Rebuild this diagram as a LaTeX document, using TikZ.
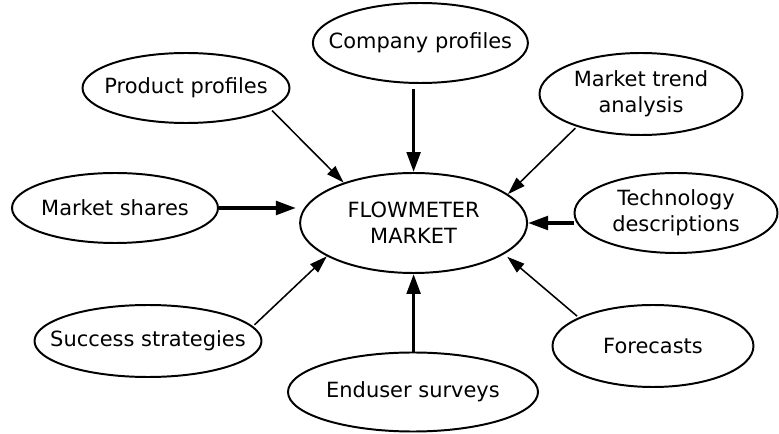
\documentclass[tikz,border=0pt]{standalone}
\usepackage{fontspec}
\setmainfont{DejaVu Sans}
\usetikzlibrary{shapes.geometric}
\usetikzlibrary{arrows.meta}

\begin{document}
\begin{tikzpicture}[
    bubble/.style={ellipse, draw, line width=1.4pt, inner xsep=-5cm, inner ysep=-1cm, align=center,
                   font=\fontsize{14.9pt}{18.5pt}\selectfont},
    feed/.style={line width=1.1pt, -{Triangle[length=0.44cm, width=0.28cm]}},
    mainfeed/.style={line width=2.5pt, -{Triangle[length=0.5cm, width=0.34cm]}}]

\draw[draw=none, use as bounding box] (0, 0) rectangle (19.475, 10.85);

% the market in the middle
\node [bubble, minimum width=5.675cm, minimum height=2.5cm] (flow) at (10.34, 5.275) {FLOWMETER\\MARKET};

% the sources round it
\node [bubble, minimum width=5.375cm, minimum height=2.0cm] (comp) at (10.51, 9.775) {Company profiles};
\node [bubble, minimum width=5.175cm, minimum height=1.75cm] (prod) at (4.65, 8.65) {Product profiles};
\node [bubble, minimum width=5.075cm, minimum height=2.05cm] (trend) at (16.025, 8.5) {Market trend\\analysis};
\node [bubble, minimum width=5.15cm, minimum height=1.75cm] (shares) at (2.875, 5.65) {Market shares};
\node [bubble, minimum width=5.075cm, minimum height=2.0cm] (tech) at (16.9, 5.525) {Technology\\descriptions};
\node [bubble, minimum width=5.675cm, minimum height=1.8cm] (succ) at (3.7, 2.325) {Success strategies};
\node [bubble, minimum width=5.025cm, minimum height=2.05cm] (fore) at (16.325, 2.2) {Forecasts};
\node [bubble, minimum width=6.25cm, minimum height=1.975cm] (endu) at (10.325, 1.05) {Enduser surveys};

% thin feeds
\draw [feed, shorten <=0.05cm] (prod.-14) -- (flow.150);
\draw [feed, shorten <=0.05cm] (trend.207) -- (flow.17);
\draw [feed, shorten <=0.05cm] (succ.8) -- (flow.201);
\draw [feed, shorten <=0.05cm, shorten >=0.1cm] (fore.159) -- (flow.-19);

% thick feeds
\draw [mainfeed, shorten <=0.12cm] (flow.north |- comp.south) -- (flow.north);
\draw [mainfeed, shorten >=0.08cm] (shares.east) -- (shares.east -| flow.west);
\draw [mainfeed] (tech.west |- flow.east) -- (flow.east);
\draw [mainfeed] (flow.south |- endu.north) -- (flow.south);
\end{tikzpicture}
\end{document}
